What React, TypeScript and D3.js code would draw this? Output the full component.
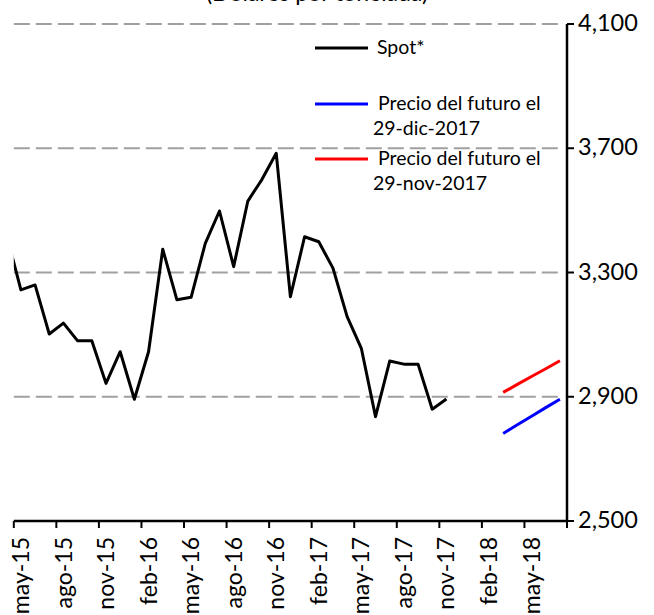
import { useEffect, useRef } from 'react'
import * as d3 from 'd3'

// monthly categories, abr-15 .. jul-18
const months = [
  'abr-15', 'may-15', 'jun-15', 'jul-15', 'ago-15', 'sep-15', 'oct-15', 'nov-15', 'dic-15',
  'ene-16', 'feb-16', 'mar-16', 'abr-16', 'may-16', 'jun-16', 'jul-16', 'ago-16', 'sep-16', 'oct-16', 'nov-16', 'dic-16',
  'ene-17', 'feb-17', 'mar-17', 'abr-17', 'may-17', 'jun-17', 'jul-17', 'ago-17', 'sep-17', 'oct-17', 'nov-17', 'dic-17',
  'ene-18', 'feb-18', 'mar-18', 'abr-18', 'may-18', 'jun-18', 'jul-18'
]

const tickLabels = [
  'may-15', 'ago-15', 'nov-15', 'feb-16', 'may-16', 'ago-16', 'nov-16',
  'feb-17', 'may-17', 'ago-17', 'nov-17', 'feb-18', 'may-18'
]

// Spot, abr-15 .. nov-17
const spotStart = 'abr-15'
const spotValues = [
  3420, 3244, 3260, 3102, 3137, 3080, 3080, 2943, 3045,
  2892, 3045, 3375, 3212, 3220, 3394, 3498, 3319, 3530, 3600, 3684, 3222,
  3415, 3399, 3314, 3158, 3056, 2836, 3015, 3005, 3005, 2860, 2893
]

// futures curves, mar-18 .. jul-18
const futuresStart = 'mar-18'
const futuresDec = [2782, 2810, 2837, 2865, 2892]
const futuresNov = [2914, 2940, 2965, 2990, 3016]

const yTicks = [2500, 2900, 3300, 3700, 4100]

const WIDTH = 654
const HEIGHT = 615
const FONT = 'Lato, Carlito, Calibri, sans-serif'

export default function App() {
  const svgRef = useRef<SVGSVGElement>(null)

  useEffect(() => {
    if (!svgRef.current) return
    const svg = d3.select(svgRef.current)
    svg.selectAll('*').remove()

    const left = 13.8
    const right = 567
    const top = 24
    const bottom = 521

    // month index -> centre of that month's slot; may-15 is the first slot
    const x = d3.scaleLinear().domain([0.5, months.length - 0.5]).range([left, right])
    const y = d3.scaleLinear().domain([2500, 4100]).range([bottom, top])
    const idx = (m: string) => months.indexOf(m)

    svg.append('defs').append('clipPath').attr('id', 'plot-clip')
      .append('rect')
      .attr('x', left).attr('y', 0)
      .attr('width', right - left).attr('height', HEIGHT)

    // title (cut off at the top in the original)
    svg.append('text')
      .attr('x', 317)
      .attr('y', 1)
      .attr('text-anchor', 'middle')
      .style('font-family', FONT)
      .style('font-size', '23px')
      .text('(Dólares por tonelada)')

    // dashed gridlines
    svg.append('g')
      .selectAll('line')
      .data(yTicks.slice(1))
      .enter().append('line')
      .attr('x1', left)
      .attr('x2', right - 9)
      .attr('y1', d => y(d))
      .attr('y2', d => y(d))
      .attr('stroke', '#a0a0a0')
      .attr('stroke-width', 2)
      .attr('stroke-dasharray', '16,6')

    const plot = svg.append('g').attr('clip-path', 'url(#plot-clip)')

    const series = [
      { start: spotStart, values: spotValues, color: '#000000' },
      { start: futuresStart, values: futuresDec, color: '#0000ff' },
      { start: futuresStart, values: futuresNov, color: '#ff0000' }
    ]
    series.forEach(s => {
      const off = idx(s.start)
      plot.append('path')
        .attr('d', d3.line<number>().x((_, i) => x(off + i)).y(d => y(d))(s.values))
        .attr('fill', 'none')
        .attr('stroke', s.color)
        .attr('stroke-width', 3)
        .attr('stroke-linejoin', 'round')
    })

    // bottom axis
    const axisColor = '#000'
    svg.append('line')
      .attr('x1', left).attr('x2', right)
      .attr('y1', bottom).attr('y2', bottom)
      .attr('stroke', axisColor).attr('stroke-width', 2.5)

    const tickPos = d3.range(0, months.length, 3).map(i => i + 0.5)
    svg.append('g')
      .selectAll('line')
      .data(tickPos)
      .enter().append('line')
      .attr('x1', d => x(d)).attr('x2', d => x(d))
      .attr('y1', bottom).attr('y2', bottom + 7)
      .attr('stroke', axisColor).attr('stroke-width', 2)

    svg.append('g')
      .selectAll('text')
      .data(tickLabels)
      .enter().append('text')
      .attr('transform', d => `translate(${x(idx(d))},${bottom + 16}) rotate(-90)`)
      .attr('dy', '0.35em')
      .attr('text-anchor', 'end')
      .style('font-family', FONT)
      .style('font-size', '23px')
      .text(d => d)

    // right axis
    svg.append('line')
      .attr('x1', right).attr('x2', right)
      .attr('y1', top).attr('y2', bottom)
      .attr('stroke', axisColor).attr('stroke-width', 2.5)

    const yAxis = svg.append('g')
    yAxis.selectAll('line')
      .data(yTicks)
      .enter().append('line')
      .attr('x1', right).attr('x2', right + 7)
      .attr('y1', d => y(d)).attr('y2', d => y(d))
      .attr('stroke', axisColor).attr('stroke-width', 2)
    yAxis.selectAll('text')
      .data(yTicks)
      .enter().append('text')
      .attr('x', right + 11)
      .attr('y', d => y(d))
      .attr('dy', '0.3em')
      .style('font-family', FONT)
      .style('font-size', '23.5px')
      .text(d => d3.format(',')(d))

    // legend
    const legend = [
      { color: '#000000', y: 48, lines: [{ x: 377, t: 'Spot*' }] },
      { color: '#0000ff', y: 104, lines: [{ x: 378, t: 'Precio del futuro el' }, { x: 373, t: '29-dic-2017' }] },
      { color: '#ff0000', y: 159, lines: [{ x: 378, t: 'Precio del futuro el' }, { x: 373, t: '29-nov-2017' }] }
    ]
    legend.forEach(item => {
      svg.append('line')
        .attr('x1', 315).attr('x2', 368)
        .attr('y1', item.y).attr('y2', item.y)
        .attr('stroke', item.color).attr('stroke-width', 3)
      item.lines.forEach((l, i) => {
        svg.append('text')
          .attr('x', l.x)
          .attr('y', item.y + 6 + i * 25)
          .style('font-family', FONT)
          .style('font-size', '19.5px')
          .text(l.t)
      })
    })
  }, [])

  return (
    <svg
      ref={svgRef}
      width={WIDTH}
      height={HEIGHT}
      style={{ position: 'absolute', left: 0, top: 0, background: '#fff' }}
    />
  )
}
